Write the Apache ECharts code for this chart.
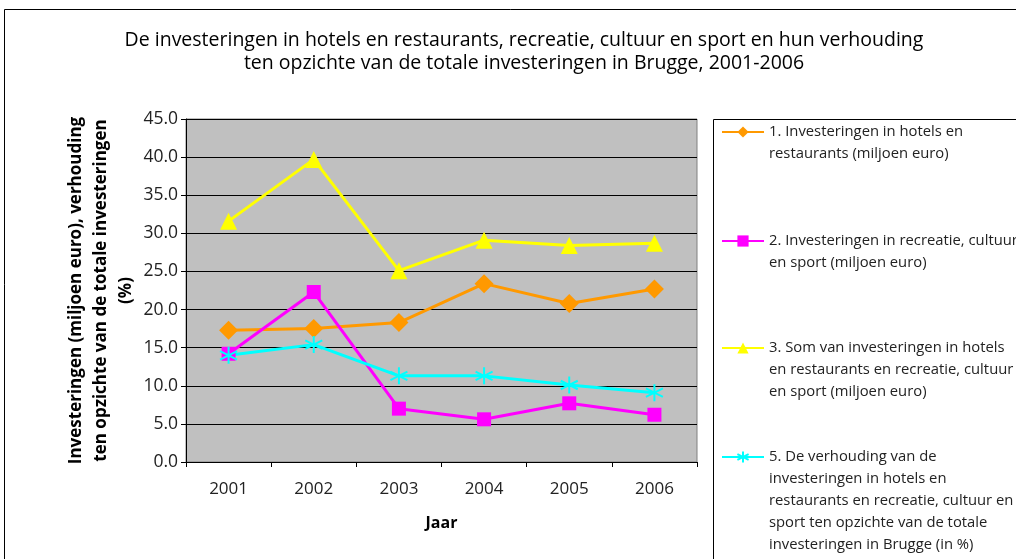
<!DOCTYPE html>
<html><head><meta charset="utf-8">
<script src="https://cdn.jsdelivr.net/npm/echarts@6/dist/echarts.min.js"></script>
<style>html,body{margin:0;padding:0;background:#fff}#c{width:1016px;height:559px}</style>
</head><body><div id="c"></div>
<script>
const years = ['2001','2002','2003','2004','2005','2006'];
const hotels = [17.3, 17.5, 18.3, 23.4, 20.8, 22.7];
const recreatie = [14.2, 22.3, 7.0, 5.6, 7.7, 6.2];
const som = [31.6, 39.7, 25.1, 29.1, 28.4, 28.7];
const verhouding = [14.0, 15.4, 11.3, 11.3, 10.1, 9.1];
const names = [
  '1. Investeringen in hotels en\nrestaurants (miljoen euro)',
  '2. Investeringen in recreatie, cultuur\nen sport (miljoen euro)',
  '3. Som van investeringen in hotels\nen restaurants en recreatie, cultuur\nen sport (miljoen euro)',
  '5. De verhouding van de\ninvesteringen in hotels en\nrestaurants en recreatie, cultuur en\nsport ten opzichte van de totale\ninvesteringen in Brugge (in %)'
];
const FONT = '"Open Sans"';
const L = 22;
function lines(s){return s.split('\n').length;}
const iconY = [132, 241, 348, 457];
const legends = names.map((n, i) => {
  const k = lines(n);
  const H = (2*k - 1) * L;
  return {
    data: [n], orient: 'vertical', left: 721, top: iconY[i] - H/2, padding: 0,
    itemWidth: 42, itemHeight: 14, itemGap: 0, selectedMode: false,
    formatter: nm => '\n'.repeat(k - 1) + nm,
    textStyle: {fontFamily: FONT, fontSize: 14.8, color: '#222', lineHeight: L}
  };
});
const asterisk = 'path://M0,-10L0,10M-8.66,-5L8.66,5M-8.66,5L8.66,-5';
const chart = echarts.init(document.getElementById('c'));
chart.setOption({
  animation: false,
  title: {
    text: 'De investeringen in hotels en restaurants, recreatie, cultuur en sport en hun verhouding\nten opzichte van de totale investeringen in Brugge, 2001-2006',
    top: 24, left: 519, textAlign: 'center',
    textStyle: {fontFamily: FONT, fontSize: 19.5, fontWeight: 'normal', color: '#000', lineHeight: 23}
  },
  legend: legends,
  graphic: [
    {type: 'rect', shape: {x: 4.5, y: 9.5, width: 1100, height: 700}, style: {fill: 'none', stroke: '#000', lineWidth: 1}, silent: true, z: -1},
    {type: 'rect', shape: {x: 713.5, y: 119.5, width: 400, height: 500}, style: {fill: 'none', stroke: '#000', lineWidth: 1}, silent: true, z: -1}
  ],
  grid: {left: 186, top: 119, width: 511, height: 343, show: true, backgroundColor: '#C0C0C0', borderColor: '#808080', borderWidth: 1},
  xAxis: {
    type: 'category', data: years, boundaryGap: true,
    name: 'Jaar', nameLocation: 'middle', nameGap: 53, nameMoveOverlap: false,
    nameTextStyle: {fontFamily: FONT, fontSize: 16, fontWeight: 'bold', color: '#000'},
    axisLine: {lineStyle: {color: '#000', width: 1}},
    axisTick: {show: true, length: 5, inside: false, lineStyle: {color: '#000'}},
    axisLabel: {fontFamily: FONT, fontSize: 17, color: '#222', margin: 19},
    splitLine: {show: false}
  },
  yAxis: {
    type: 'value', min: 0, max: 45, interval: 5,
    name: 'Investeringen (miljoen euro), verhouding\nten opzichte van de totale investeringen\n(%)',
    nameLocation: 'middle', nameGap: 47, nameRotate: 90, nameMoveOverlap: false,
    nameTextStyle: {fontFamily: FONT, fontSize: 17, fontWeight: 'bold', color: '#000', lineHeight: 25, align: 'center'},
    axisLine: {show: true, lineStyle: {color: '#000', width: 1}},
    axisTick: {show: true, length: 5, lineStyle: {color: '#000'}},
    axisLabel: {fontFamily: FONT, fontSize: 17.5, color: '#222', margin: 8, formatter: v => v.toFixed(1)},
    splitLine: {show: true, lineStyle: {color: '#000', width: 1}}
  },
  series: [
    {name: names[0], type: 'line', data: hotels, symbol: 'diamond', symbolSize: 19, color: '#FF9900', lineStyle: {width: 3, color: '#FF9900'}, itemStyle: {color: '#FF9900'}},
    {name: names[1], type: 'line', data: recreatie, symbol: 'rect', symbolSize: 14, color: '#FF00FF', lineStyle: {width: 3, color: '#FF00FF'}, itemStyle: {color: '#FF00FF'}},
    {name: names[2], type: 'line', data: som, symbol: 'triangle', symbolSize: 17, color: '#FFFF00', lineStyle: {width: 3, color: '#FFFF00'}, itemStyle: {color: '#FFFF00'}},
    {name: names[3], type: 'line', data: verhouding, symbol: asterisk, symbolSize: 17, color: '#00FFFF', lineStyle: {width: 3, color: '#00FFFF'}, itemStyle: {color: 'none', borderColor: '#00FFFF', borderWidth: 2}}
  ]
});
</script></body></html>
